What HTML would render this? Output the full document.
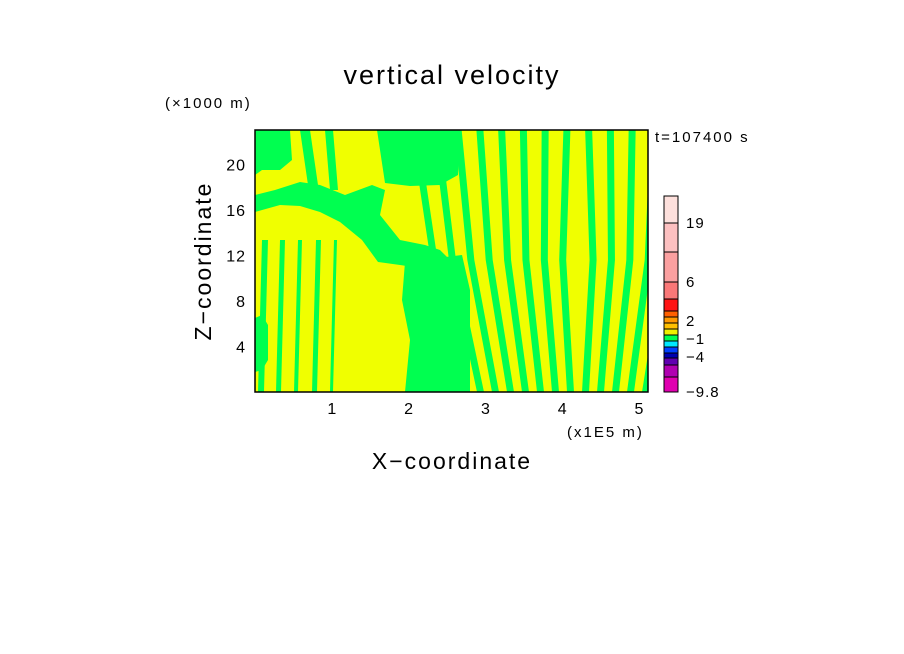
<!DOCTYPE html>
<html><head><meta charset="utf-8">
<style>
html,body{margin:0;padding:0;background:#fff;}
svg{display:block;font-family:"Liberation Sans","DejaVu Sans",sans-serif;}
</style></head>
<body>
<svg id="chart" width="904" height="654" viewBox="0 0 904 654">
<text x="452" y="84" font-size="27" letter-spacing="2" text-anchor="middle">vertical velocity</text>
<text x="165" y="108" font-size="15" letter-spacing="2">(×1000 m)</text>
<text x="655" y="142" font-size="15" letter-spacing="2">t=107400 s</text>
<text x="567" y="437" font-size="15" letter-spacing="2">(x1E5 m)</text>
<text x="452" y="469" font-size="23" letter-spacing="2" text-anchor="middle">X−coordinate</text>
<text transform="translate(211,261) rotate(-90)" font-size="23" letter-spacing="2" text-anchor="middle">Z−coordinate</text>
<defs><clipPath id="pc"><rect x="255" y="130" width="393" height="262"/></clipPath></defs>
<g id="field" clip-path="url(#pc)">
<rect x="255" y="130" width="393" height="262" fill="#f0ff00"/>
</g>
<rect x="255" y="130" width="393" height="262" fill="none" stroke="#000" stroke-width="1.5"/>
<g id="axes"></g>
<g id="cbar"></g>
</svg>
<script>
const xTicks=[1,2,3,4,5];
const yTicks=[4,8,12,16,20];
const cbColors=["#e000b0","#b000b0","#6000b0","#0000b0","#0040ff","#00e8ff","#00ff50","#f0f000","#ffc000","#ff9900","#ff6000","#ff1414","#fa7878","#fba0a0","#fcc0c0","#fde0dc"];
const cbLabels=["−9.8","−4","−1","2","6","19"];
const cbLabelIdx=[0,3,6,9,12,15];
const NS="http://www.w3.org/2000/svg";
const sx=v=>255+v*76.8, sy=v=>392-v*11.38;
const ax=document.getElementById('axes');
function mk(t,a,p){const e=document.createElementNS(NS,t);for(const k in a)e.setAttribute(k,a[k]);p.appendChild(e);return e;}
xTicks.forEach(v=>{const t=mk('text',{x:sx(v),y:414,'font-size':16,'text-anchor':'middle'},ax);t.textContent=v;

});
yTicks.forEach(v=>{const t=mk('text',{x:246,y:sy(v)+6,'font-size':16,'text-anchor':'end','letter-spacing':1},ax);t.textContent=v;

});
const segH=[15,12,7,5,6,6,6,6,6,6,6,12,17,30,29,27];
const cb=document.getElementById('cbar');
let y=392;const ys=[];
segH.forEach((h,i)=>{y-=h;ys.push(y);const r=mk('rect',{x:664,y:y,width:14,height:h,fill:cbColors[i],stroke:'#000','stroke-width':1},cb);

});
cbLabelIdx.forEach((i,k)=>{const ly=k==5?ys[14]+5:(k==0?397:ys[i]+(i==12?5:9));const t=mk('text',{x:686,y:ly,'font-size':15,'letter-spacing':1},cb);t.textContent=cbLabels[k];

});
const f=document.getElementById('field');const G="#00ff50";
function poly(pts){const p=mk('polygon',{points:pts,fill:G},f);

}
// top-middle green block
poly("377,130 460,130 458,175 440,185 410,186 385,183");
// diagonal green band
poly("255,195 275,190 300,182 320,185 345,195 372,185 385,190 380,215 400,240 425,245 440,250 452,262 445,275 420,268 400,265 378,262 362,240 340,222 320,212 300,206 280,205 255,212");
// top-left green with stripes
poly("255,130 290,130 292,160 280,170 262,170 255,175");
poly("300,130 310,130 318,185 308,185");
poly("325,130 333,130 338,190 330,190");
// central green column
poly("405,262 462,255 470,290 470,392 405,392 410,340 402,300");
// left-lower stripes
[[262,6],[280,5],[298,4],[316,5],[334,3]].forEach(s=>{poly(`${s[0]},240 ${s[0]+s[1]},240 ${s[0]+s[1]-4},392 ${s[0]-4},392`);});
poly("255,318 262,315 268,325 268,360 262,370 255,372");
// right stripes fanning
for(let b=462;b<648;b+=15){const t=b+(b-575)*0.45, w=7;
poly(`${b},392 ${b+w},392 ${(b+t)/2+w+(b<575?-6:6)},260 ${t+w},130 ${t},130 ${(b+t)/2+(b<575?-6:6)},260`);}
</script>
</body></html>
